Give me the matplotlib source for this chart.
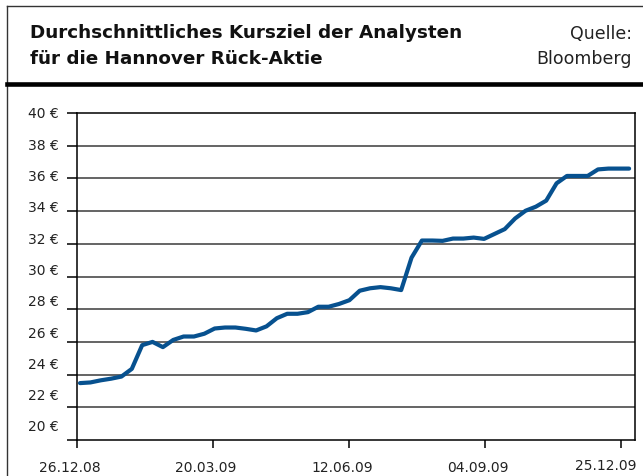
import numpy as np
import matplotlib
matplotlib.use("Agg")
import matplotlib.pyplot as plt
from matplotlib.lines import Line2D
from matplotlib.transforms import ScaledTranslation

# weekly average analyst target, EUR
kursziel = [23.48, 23.52, 23.65, 23.75, 23.88, 24.35, 25.80, 26.00, 25.68, 26.12,
            26.33, 26.33, 26.50, 26.82, 26.88, 26.88, 26.80, 26.70, 26.95, 27.45,
            27.72, 27.72, 27.82, 28.15, 28.15, 28.32, 28.55, 29.13, 29.28, 29.35,
            29.28, 29.17, 31.15, 32.20, 32.20, 32.18, 32.32, 32.32, 32.38, 32.30,
            32.60, 32.90, 33.55, 34.02, 34.27, 34.64, 35.70, 36.15, 36.15, 36.15,
            36.55, 36.60, 36.60, 36.60]
x_labels = ['26.12.08', '20.03.09', '12.06.09', '04.09.09', '25.12.09']
x_tick_pos = [-0.29, 12.84, 25.97, 39.10, 52.22]
y_ticks = [20, 22, 24, 26, 28, 30, 32, 34, 36, 38, 40]

title1 = 'Durchschnittliches Kursziel der Analysten'
title2 = 'für die Hannover Rück-Aktie'

W, H = 643, 477
fig = plt.figure(figsize=(W / 100, H / 100), dpi=100)
ax = fig.add_axes([77 / W, 1 - 441 / H, (635 - 77) / W, (441 - 114) / H])

x = np.arange(len(kursziel))
ax.plot(x, kursziel, color='#07518f', lw=3.0, solid_joinstyle='round',
        solid_capstyle='round', zorder=3)

ax.set_xlim(-0.29, 53.57)
ax.set_ylim(20, 40)

# gridlines
for v in y_ticks[1:-1]:
    ax.axhline(v, color='#3a3a3a', lw=1.1, zorder=1)

for s in ax.spines.values():
    s.set_linewidth(1.1)
    s.set_color('black')

ax.set_yticks(y_ticks)
ax.set_yticklabels([f'{v} €' for v in y_ticks], fontsize=10, color='#222222')
ax.tick_params(axis='y', length=7, width=1.1, pad=6)
# labels in the original drift slightly above their lines
for v, lab in zip(y_ticks, ax.get_yticklabels()):
    dy = (15 - (v - 20) * 0.7) / 100
    lab.set_transform(lab.get_transform() + ScaledTranslation(0, dy, fig.dpi_scale_trans))

ax.set_xticks(x_tick_pos)
ax.set_xticklabels(x_labels, fontsize=10, color='#222222')
ax.tick_params(axis='x', length=6, width=1.1, pad=8.5)
for i, lab in enumerate(ax.get_xticklabels()):
    dx, dy = -7, 0
    if i == len(x_labels) - 1:
        dx, dy = -15, 2
    lab.set_transform(lab.get_transform() + ScaledTranslation(dx / 100, dy / 100, fig.dpi_scale_trans))

# outer frame and header
fig.add_artist(Line2D([7 / W, 7 / W], [0, 1 - 7 / H], color='#333333', lw=1.0))
fig.add_artist(Line2D([7 / W, 1], [1 - 7 / H, 1 - 7 / H], color='#333333', lw=1.0))
fig.add_artist(Line2D([7 / W, 1], [1 - 85 / H, 1 - 85 / H], color='black', lw=3.3))

fig.text(30 / W, 1 - 38.5 / H, title1, fontsize=13.2, fontweight='bold', va='baseline', color='#111111')
fig.text(30 / W, 1 - 64.5 / H, title2, fontsize=13.2, fontweight='bold', va='baseline', color='#111111')
fig.text(632 / W, 1 - 39 / H, 'Quelle:', fontsize=12.5, ha='right', va='baseline', color='#222222')
fig.text(632 / W, 1 - 64.5 / H, 'Bloomberg', fontsize=12.5, ha='right', va='baseline', color='#222222')

fig.savefig('out.png', dpi=100)
